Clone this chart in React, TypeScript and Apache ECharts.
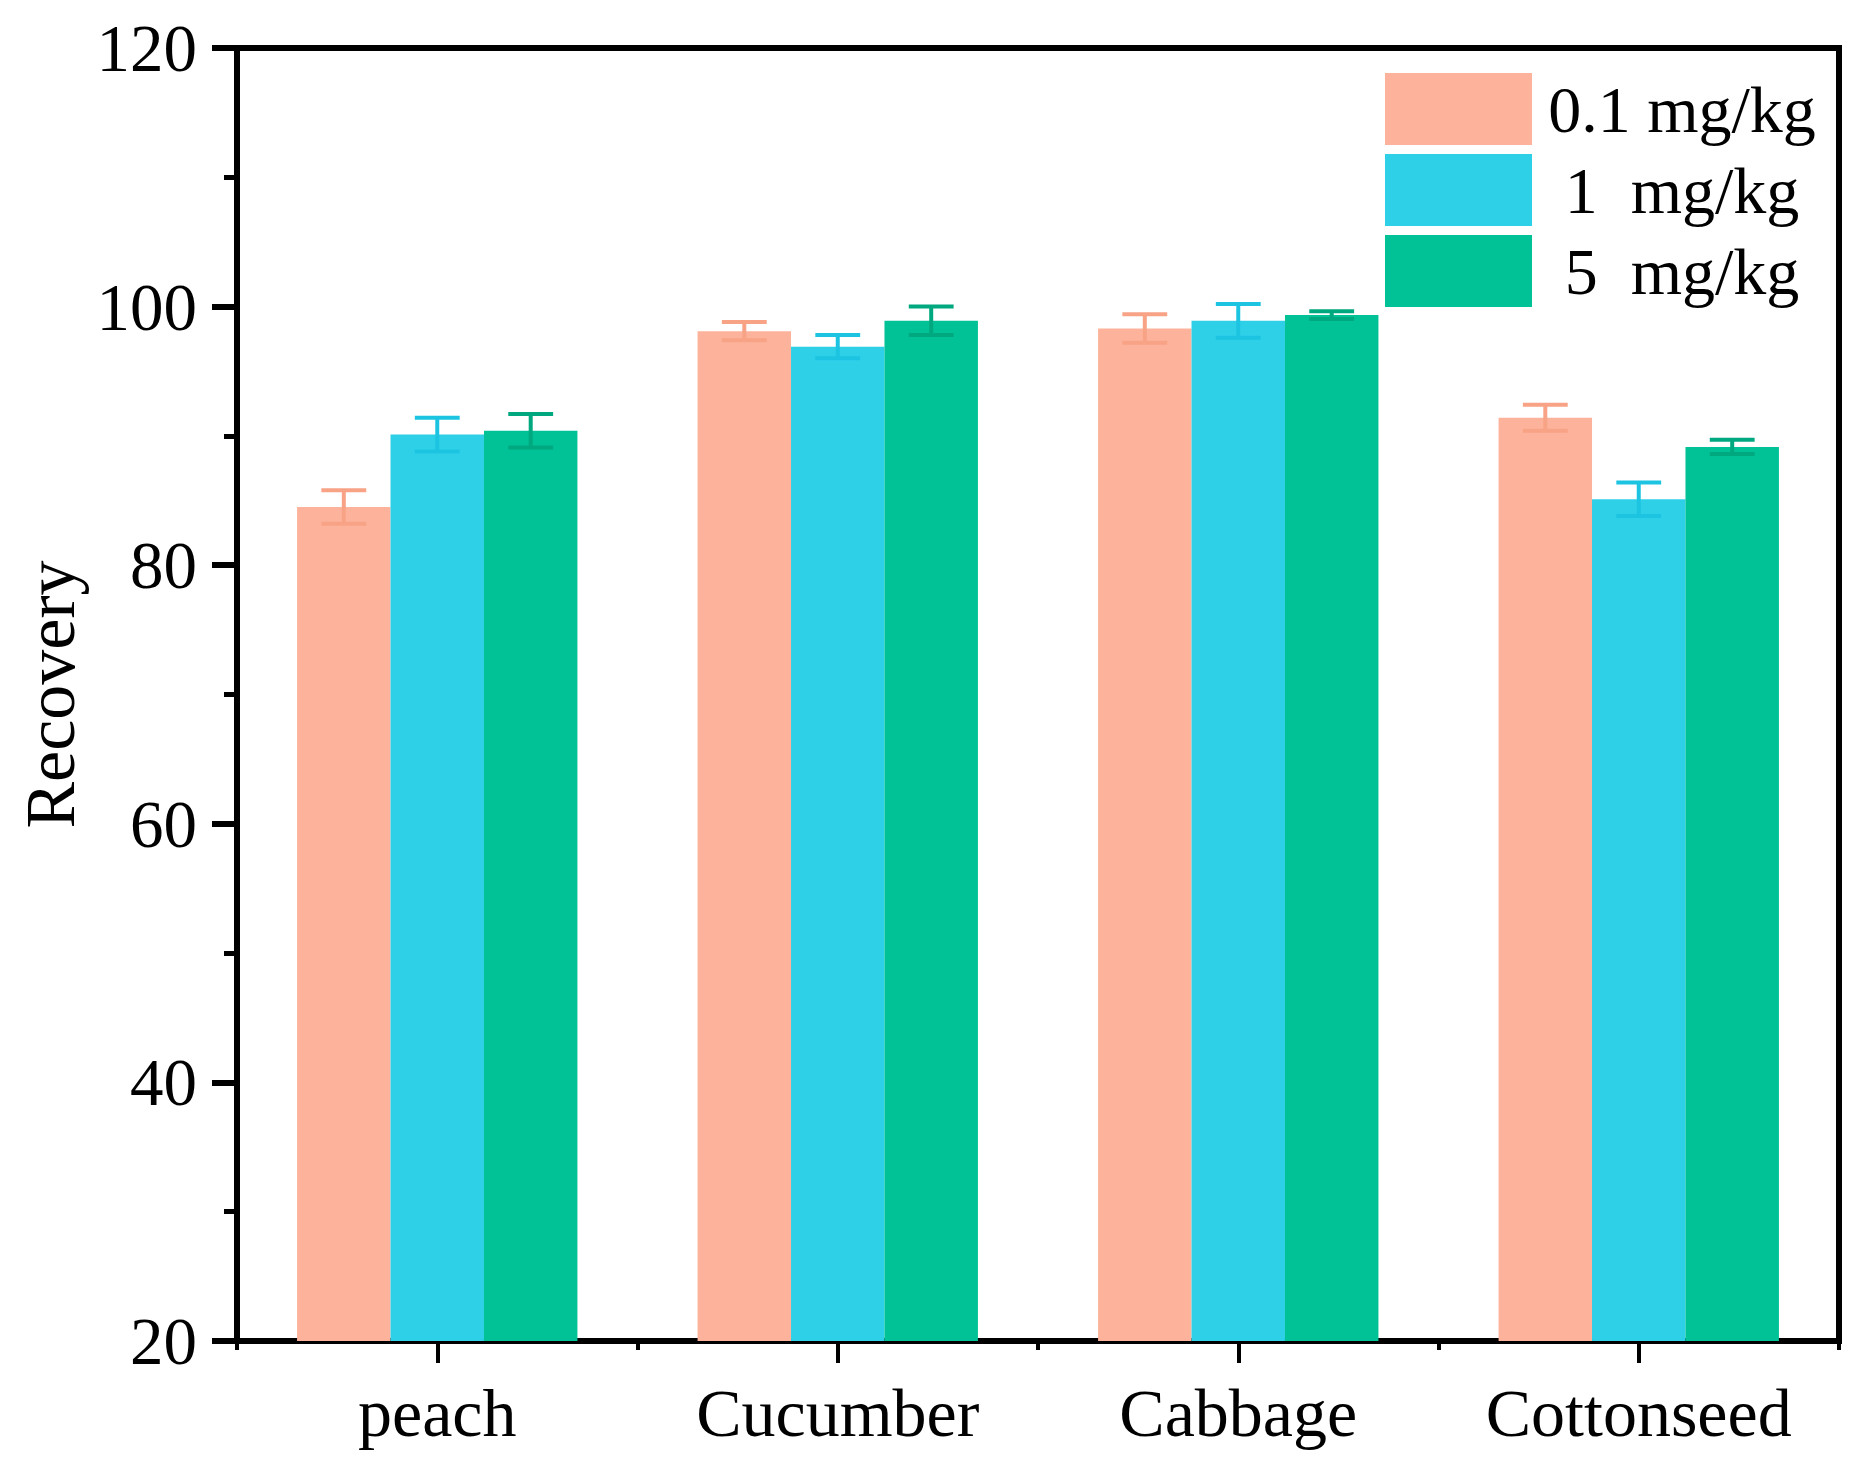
import React, { useEffect, useRef } from "react";
import * as echarts from "echarts";

const categories = ["peach", "Cucumber", "Cabbage", "Cottonseed"];
const seriesNames = ["0.1 mg/kg", "1  mg/kg", "5  mg/kg"];
const values01 = [84.5, 98.1, 98.3, 91.4];
const errors01 = [1.3, 0.7, 1.1, 1.0];
const values1 = [90.1, 96.9, 98.9, 85.1];
const errors1 = [1.3, 0.9, 1.3, 1.3];
const values5 = [90.4, 98.9, 99.35, 89.15];
const errors5 = [1.3, 1.1, 0.3, 0.55];
const yTicks = [20, 40, 60, 80, 100, 120];

const barColors = ["#FDB39B", "#2ED0E8", "#00C296"];
const errColors = ["#F8A286", "#1CC4E2", "#00A87F"];
const FONT = "Liberation Serif";

export default function App() {
  const ref = useRef<HTMLDivElement>(null);
  useEffect(() => {
    if (!ref.current) return;
    const chart = echarts.init(ref.current, null, { renderer: "svg" });
    const vals = [values01, values1, values5];
    const errs = [errors01, errors1, errors5];

    const barSeries = vals.map((v, i) => ({
      name: seriesNames[i],
      type: "bar",
      data: v,
      barGap: "0%",
      barCategoryGap: "30%",
      itemStyle: { color: barColors[i] },
      z: 2,
    }));

    const errSeries = vals.map((v, i) => ({
      name: "err" + i,
      type: "custom",
      data: v.map((val, k) => [k, val, errs[i][k]]),
      z: 5,
      renderItem: (params: any, api: any) => {
        const idx = api.value(0);
        const val = api.value(1);
        const e = api.value(2);
        const catW = api.size([1, 0])[0];
        const barW = (catW * 0.7) / 3;
        const cx = api.coord([idx, val])[0] + (i - 1) * barW;
        const top = api.coord([idx, val + e])[1];
        const bot = api.coord([idx, val - e])[1];
        const half = barW * 0.24;
        const style = { stroke: errColors[i], lineWidth: 4 };
        return {
          type: "group",
          children: [
            { type: "line", shape: { x1: cx, y1: top, x2: cx, y2: bot }, style },
            { type: "line", shape: { x1: cx - half, y1: top, x2: cx + half, y2: top }, style },
            { type: "line", shape: { x1: cx - half, y1: bot, x2: cx + half, y2: bot }, style },
          ],
        };
      },
    }));

    chart.setOption({
      animation: false,
      backgroundColor: "#ffffff",
      grid: {
        left: 237,
        right: 32,
        top: 48,
        bottom: 122,
        outerBoundsMode: "none",
        containLabel: false,
        show: true,
        borderColor: "#000",
        borderWidth: 6,
        backgroundColor: "transparent",
      },
      legend: {
        data: seriesNames,
        orient: "vertical",
        left: 1380,
        top: 68,
        itemWidth: 147,
        itemHeight: 72,
        itemGap: 9,
        icon: "rect",
        selectedMode: false,
        formatter: (name: string) => `{a|${name}}`,
        textStyle: {
          rich: {
            a: {
              width: 290,
              align: "center",
              fontSize: 66,
              fontFamily: FONT,
              color: "#000",
            },
          },
        },
      },
      xAxis: [
        {
          type: "category",
          data: categories,
          position: "bottom",
          axisLine: { show: true, lineStyle: { color: "#000", width: 6 } },
          axisTick: {
            show: true,
            alignWithLabel: true,
            length: 22,
            lineStyle: { color: "#000", width: 4 },
          },
          axisLabel: {
            fontSize: 68,
            fontFamily: FONT,
            color: "#000",
            margin: 38,
            interval: 0,
          },
        },
        {
          type: "category",
          data: categories,
          position: "bottom",
          axisLine: { show: false },
          axisTick: {
            show: true,
            alignWithLabel: false,
            length: 9,
            lineStyle: { color: "#000", width: 4 },
          },
          axisLabel: { show: false },
        },
      ],
      yAxis: {
        type: "value",
        min: yTicks[0],
        max: yTicks[yTicks.length - 1],
        interval: 20,
        name: "Recovery",
        nameLocation: "middle",
        nameRotate: 90,
        nameGap: 152,
        nameTextStyle: { fontSize: 70, lineHeight: 70, fontFamily: FONT, color: "#000" },
        axisLine: { show: true, lineStyle: { color: "#000", width: 6 } },
        axisTick: { show: true, length: 25, lineStyle: { color: "#000", width: 6 } },
        minorTick: { show: true, splitNumber: 2, length: 13, lineStyle: { color: "#000", width: 5 } },
        splitLine: { show: false },
        axisLabel: { fontSize: 67, fontFamily: FONT, color: "#000", margin: 40 },
      },
      series: [...barSeries, ...errSeries],
    });
    return () => chart.dispose();
  }, []);
  return (
    <div
      ref={ref}
      style={{ position: "absolute", left: 0, top: 0, width: 1871, height: 1463 }}
    />
  );
}
